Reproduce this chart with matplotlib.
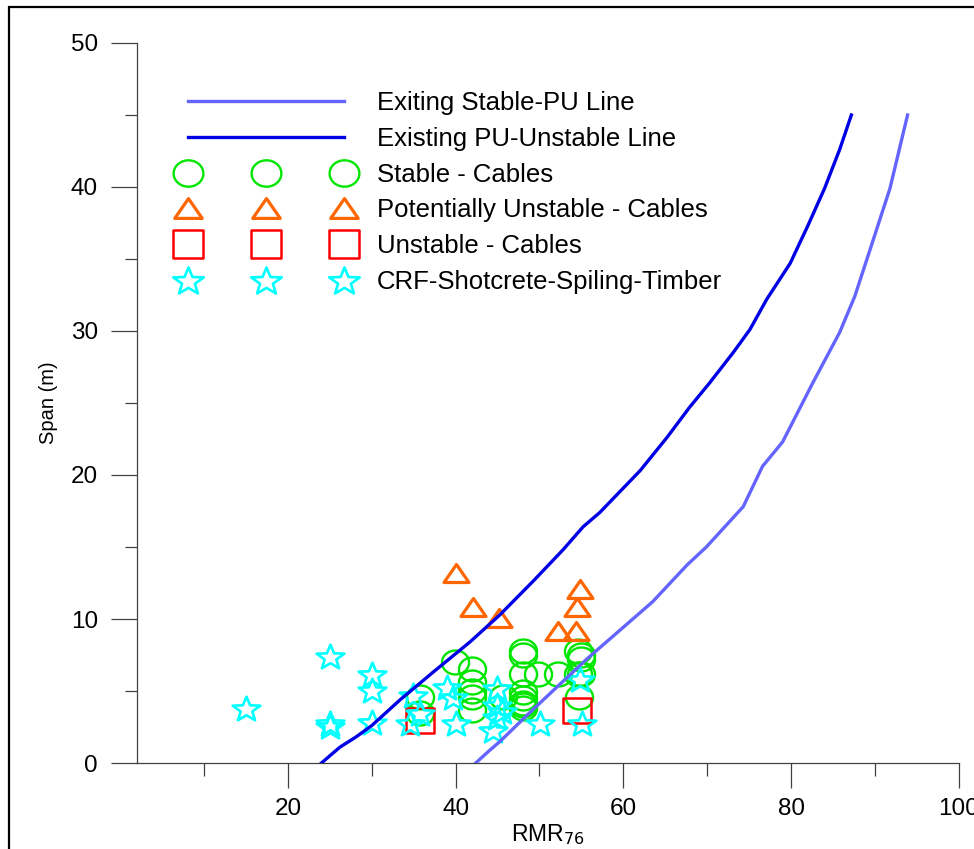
import numpy as np
import matplotlib.pyplot as plt
from matplotlib.path import Path
from matplotlib.patches import Rectangle
from matplotlib.ticker import MultipleLocator

plt.rcParams['font.family'] = ['Liberation Sans', 'DejaVu Sans']

# stability lines (RMR76, span)
stable_pu_x = [42.4, 44.1, 45.3, 49.2, 55.8, 63.5, 67.6, 69.9, 74.3, 76.6, 79.0, 82.6, 85.8, 87.6, 89.4, 91.8, 93.9]
stable_pu_y = [0.0, 0.9, 1.5, 3.7, 7.3, 11.2, 13.75, 15.0, 17.8, 20.6, 22.3, 26.4, 29.9, 32.4, 35.6, 39.9, 45.0]
pu_unstable_x = [24.0, 26.2, 28.1, 30.0, 33.4, 37.3, 41.7, 45.3, 49.2, 52.8, 55.2, 57.2, 62.0, 65.2, 67.9, 70.3, 73.1, 75.1, 77.1, 79.9, 82.0, 84.0, 85.8, 87.2]
pu_unstable_y = [0.0, 1.1, 1.8, 2.6, 4.4, 6.3, 8.4, 10.3, 12.6, 14.8, 16.4, 17.4, 20.3, 22.6, 24.7, 26.4, 28.5, 30.1, 32.2, 34.7, 37.3, 39.9, 42.6, 45.0]

# case histories
stable_x = [35.7, 35.7, 39.9, 42.0, 42.0, 42.0, 42.0, 42.0, 45.7, 48.0, 48.0, 48.0, 48.0, 48.0, 48.0, 48.0, 48.0, 49.8, 52.2, 54.6, 55.0, 55.0, 54.6, 55.0, 54.7]
stable_y = [4.6, 3.5, 7.0, 6.5, 5.6, 5.0, 4.6, 3.7, 4.6, 7.8, 7.5, 6.2, 4.9, 4.5, 4.2, 4.0, 3.8, 6.2, 6.2, 7.8, 7.5, 7.2, 6.2, 6.2, 4.6]
pu_x = [40.0, 42.1, 45.2, 52.2, 54.4, 54.5, 54.8]
pu_y = [13.2, 10.8, 10.1, 9.2, 9.2, 10.8, 12.1]
unstable_x = [35.7, 54.5]
unstable_y = [3.0, 3.7]
crf_x = [15.0, 25.0, 25.0, 25.0, 30.0, 30.0, 30.0, 34.9, 35.7, 34.5, 39.0, 39.7, 40.0, 44.9, 44.9, 44.9, 44.5, 45.5, 50.1, 54.8, 55.1]
crf_y = [3.8, 7.4, 2.8, 2.6, 6.2, 5.1, 2.85, 4.7, 3.5, 2.8, 5.3, 4.6, 2.8, 5.2, 4.0, 3.2, 2.3, 3.6, 2.8, 5.8, 2.8]


def ellipse_marker(sx, sy):
    t = np.linspace(0, 2 * np.pi, 60)
    return Path(np.column_stack([sx * np.cos(t), sy * np.sin(t)]), closed=True)


def poly_marker(pts):
    pts = np.asarray(pts, float)
    return Path(np.vstack([pts, pts[:1]]), closed=True)


def star_marker(sx, inner):
    ang = np.pi / 2 + np.arange(10) * np.pi / 5
    r = np.where(np.arange(10) % 2 == 0, 1.0, inner)
    pts = np.column_stack([sx * r * np.cos(ang), r * np.sin(ang) - 0.095])
    return poly_marker(pts)


circ = ellipse_marker(1.13, 1.0)
tri = poly_marker([(-1, -0.72), (1, -0.72), (0, 0.72)])
sq = poly_marker([(-1, -0.9), (1, -0.9), (1, 0.9), (-1, 0.9)])
star = star_marker(1.12, 0.42)

fig = plt.figure(figsize=(9.74, 8.49), dpi=100)
ax = fig.add_axes([137 / 974, 1 - 763 / 849, (958.7 - 137) / 974, (763 - 43) / 849])

ax.plot(stable_pu_x, stable_pu_y, color='#6464ff', lw=2.4, label='Exiting Stable-PU Line', zorder=3)
ax.plot(pu_unstable_x, pu_unstable_y, color='#0000e6', lw=2.4, label='Existing PU-Unstable Line', zorder=3)

mk = dict(linestyle='none', markerfacecolor='none')
ax.plot(stable_x, stable_y, marker=circ, markersize=19.5, markeredgecolor='#00e600',
        markeredgewidth=1.7, label='Stable - Cables', **mk)
ax.plot(pu_x, pu_y, marker=tri, markersize=18, markeredgecolor='#ff6600',
        markeredgewidth=2.3, label='Potentially Unstable - Cables', **mk)
ax.plot(unstable_x, unstable_y, marker=sq, markersize=20, markeredgecolor='#ff0000',
        markeredgewidth=1.8, label='Unstable - Cables', **mk)
ax.plot(crf_x, crf_y, marker=star, markersize=20, markeredgecolor='#00ffff',
        markeredgewidth=1.9, label='CRF-Shotcrete-Spiling-Timber', **mk)

ax.set_xlim(2, 100)
ax.set_ylim(0, 50)
ax.xaxis.set_major_locator(MultipleLocator(20))
ax.xaxis.set_minor_locator(MultipleLocator(10))
ax.yaxis.set_major_locator(MultipleLocator(10))
ax.yaxis.set_minor_locator(MultipleLocator(5))
ax.set_xticks([20, 40, 60, 80, 100])
for s in ['top', 'right']:
    ax.spines[s].set_visible(False)
for s in ['left', 'bottom']:
    ax.spines[s].set_color('#404040')
    ax.spines[s].set_linewidth(0.9)
ax.tick_params(which='major', length=19, width=0.9, color='#404040', labelsize=17.5, pad=9)
ax.tick_params(which='minor', length=9, width=0.9, color='#404040')
ax.tick_params(axis='x', which='major', length=18, pad=7)

ax.set_xlabel('RMR$_{76}$', fontsize=16.5, labelpad=2)
ax.set_ylabel('Span (m)', fontsize=14.5, labelpad=9)

leg = ax.legend(loc='upper left', bbox_to_anchor=(180 / 974, 1 - 91 / 849),
                bbox_transform=fig.transFigure, frameon=False, numpoints=3,
                fontsize=18.5, handlelength=6.67, handletextpad=0.99,
                labelspacing=0.46, borderpad=0, borderaxespad=0, markerscale=1.1)

fig.add_artist(Rectangle((9 / 974, -0.05), 1.2, 1 - 7 / 849 + 0.05, transform=fig.transFigure,
                         fill=False, edgecolor='black', linewidth=1.6))

fig.savefig('out.png', dpi=100)
